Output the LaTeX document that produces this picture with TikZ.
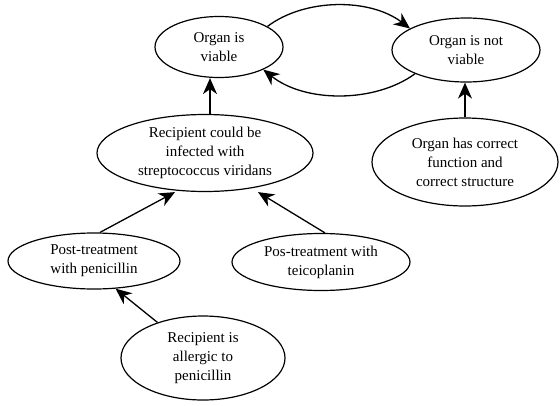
\documentclass[tikz,border=0pt]{standalone}
\usepackage{fontspec}
\setmainfont{Liberation Serif}
\usetikzlibrary{shapes.geometric,arrows.meta}
\tikzset{
  state/.style={draw, ellipse, line width=1.2pt, inner sep=0pt, align=center,
    font=\fontsize{15}{19}\selectfont},
  arr/.style={line width=1.3pt, -{Stealth[length=16pt,width=14pt,inset=5pt]}}
}
\begin{document}
\begin{tikzpicture}[x=1pt,y=1pt]
\useasboundingbox (0,0) rectangle (560,-405);
\node[state, minimum width=128pt, minimum height=61pt] (viable) at (219,-47) {Organ is\\viable};
\node[state, minimum width=148pt, minimum height=64pt] (notviable) at (466,-50) {Organ is not\\viable};
\node[state, minimum width=216pt, minimum height=77pt] (recip) at (205,-153) {Recipient could be\\infected with\\streptococcus viridans};
\node[state, minimum width=186pt, minimum height=88pt] (correct) at (465,-162) {Organ has correct\\function and\\correct structure};
\node[state, minimum width=172pt, minimum height=56pt] (post) at (94,-261) {Post-treatment\\with penicillin};
\node[state, minimum width=178pt, minimum height=57pt] (teico) at (321,-262) {Pos-treatment with\\teicoplanin};
\node[state, minimum width=164pt, minimum height=84pt] (allergic) at (203,-358) {Recipient is\\allergic to\\penicillin};

\draw[arr] (viable.23) .. controls (305,2) and (370,2) .. (notviable.159);
\draw[arr] (notviable.205) .. controls (375,-103) and (305,-103) .. (viable.-27);
\draw[arr] ([xshift=5pt]recip.north) -- ([xshift=-9pt]viable.south);
\draw[arr] (correct.north) -- (correct.north |- notviable.south);
\draw[arr] ([xshift=6pt]post.north) -- ([xshift=-30pt]recip.south);
\draw[arr] ([xshift=4pt]teico.north) -- ([xshift=53pt]recip.south);
\draw[arr] (allergic.142) -- (post.-52);
\end{tikzpicture}
\end{document}
